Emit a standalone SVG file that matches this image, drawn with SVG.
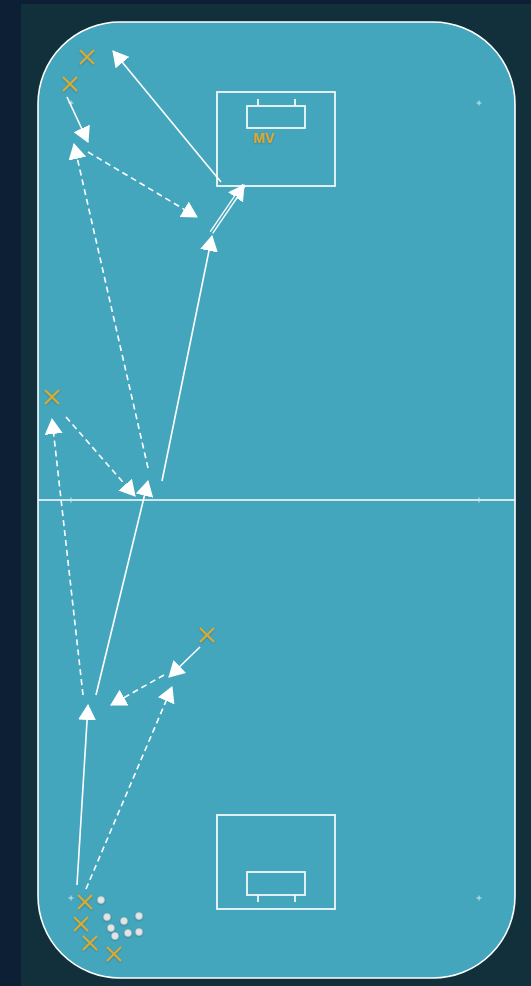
<svg xmlns="http://www.w3.org/2000/svg" width="531" height="986" viewBox="0 0 531 986">
  <defs>
    <marker id="ah" markerUnits="userSpaceOnUse" viewBox="0 0 16 18" markerWidth="16" markerHeight="18" refX="15" refY="9" orient="auto">
      <path d="M0,0 L16,9 L0,18 z" fill="#ffffff"/>
    </marker>
    <filter id="sh" x="-50%" y="-50%" width="200%" height="200%">
      <feDropShadow dx="0" dy="0.8" stdDeviation="0.8" flood-color="#000" flood-opacity="0.25"/>
    </filter>
  </defs>
  <style>
    .field{fill:#44a6bd;stroke:#ffffff;stroke-width:1.6}
    .ln{stroke:#ffffff;stroke-width:1.5;fill:none}
    .goal{stroke:#f2f8fa;stroke-width:1.8;fill:none}
    .tick{stroke:#c9e7ef;stroke-width:1;fill:none}
    .run{stroke:#ffffff;stroke-width:1.6;fill:none;marker-end:url(#ah)}
    .dash{stroke:#ffffff;stroke-width:1.6;fill:none;stroke-dasharray:6 4;marker-end:url(#ah)}
    .x{stroke:#e2aa2c;stroke-width:1.8;fill:none}
    .ball{fill:#e4e4e4;stroke:#c8c8c8;stroke-width:0.6}
    .lbl{font-family:"Liberation Sans",Arial,sans-serif;font-weight:bold;font-size:14px;fill:#e8a628}
  </style>
  <rect x="0" y="0" width="531" height="986" fill="#0d1f35"/>
  <rect x="21" y="4" width="510" height="982" fill="#11303b"/>
  <g id="pitch">
    <rect class="field" x="38" y="22" width="477" height="956" rx="82" ry="82"/>
    <line class="ln" x1="38" y1="500" x2="515" y2="500"/>
    <g class="tick">
      <path d="M68.5,103h5M71,100.5v5"/>
      <path d="M476.5,103h5M479,100.5v5"/>
      <path d="M68.5,500h5M71,497.5v5"/>
      <path d="M476.5,500h5M479,497.5v5"/>
      <path d="M68.5,898h5M71,895.5v5"/>
      <path d="M476.5,898h5M479,895.5v5"/>
    </g>
  </g>
  <g id="goal-top">
    <rect class="goal" x="217" y="92" width="118" height="94"/>
    <rect class="goal" x="247" y="106" width="58" height="22"/>
    <line class="goal" x1="258" y1="99" x2="258" y2="106"/>
    <line class="goal" x1="295" y1="99" x2="295" y2="106"/>
    <text class="lbl" x="264" y="143" text-anchor="middle" filter="url(#sh)">MV</text>
  </g>
  <g id="goal-bottom">
    <rect class="goal" x="217" y="815" width="118" height="94"/>
    <rect class="goal" x="247" y="872" width="58" height="23"/>
    <line class="goal" x1="258" y1="895" x2="258" y2="902"/>
    <line class="goal" x1="295" y1="895" x2="295" y2="902"/>
  </g>
  <g id="connectors">
    <line class="run" x1="221" y1="182" x2="113" y2="51"/>
    <line class="run" x1="67" y1="97" x2="88" y2="142"/>
    <line class="dash" x1="88" y1="152" x2="197" y2="217"/>
    <line class="dash" x1="148" y1="468" x2="74" y2="144"/>
    <line class="run" x1="162" y1="481" x2="212" y2="236"/>
    <line class="dash" x1="66" y1="417" x2="135" y2="496"/>
    <line class="run" x1="96" y1="695" x2="148" y2="481"/>
    <line class="dash" x1="83" y1="695" x2="52" y2="419"/>
    <line class="run" x1="200" y1="647" x2="169" y2="677"/>
    <line class="dash" x1="164" y1="675" x2="111" y2="705"/>
    <line class="dash" x1="86" y1="889" x2="172" y2="687"/>
    <line class="run" x1="77" y1="885" x2="88" y2="705"/>
    <g id="pass">
      <line x1="211.5" y1="232.5" x2="244" y2="185" stroke="#ffffff" stroke-width="4.2" marker-end="url(#ah)"/>
      <line x1="211.5" y1="232.5" x2="236" y2="196.5" stroke="#44a6bd" stroke-width="1.5" stroke-linecap="round"/>
    </g>
  </g>
  <g id="players" filter="url(#sh)">
    <g id="p1"><path class="x" d="M80,50l14,14M94,50l-14,14"/></g>
    <g id="p2"><path class="x" d="M63,77l14,14M77,77l-14,14"/></g>
    <g id="p3"><path class="x" d="M45,390l14,14M59,390l-14,14"/></g>
    <g id="p4"><path class="x" d="M200,628l14,14M214,628l-14,14"/></g>
    <g id="p5"><path class="x" d="M78,895l14,14M92,895l-14,14"/></g>
    <g id="p6"><path class="x" d="M74,917l14,14M88,917l-14,14"/></g>
    <g id="p7"><path class="x" d="M83,936l14,14M97,936l-14,14"/></g>
    <g id="p8"><path class="x" d="M107,947l14,14M121,947l-14,14"/></g>
  </g>
  <g id="balls" filter="url(#sh)">
    <circle class="ball" cx="101" cy="900" r="3.4"/>
    <circle class="ball" cx="107" cy="917" r="3.4"/>
    <circle class="ball" cx="124" cy="921" r="3.4"/>
    <circle class="ball" cx="139" cy="916" r="3.4"/>
    <circle class="ball" cx="111" cy="928" r="3.4"/>
    <circle class="ball" cx="115" cy="936" r="3.4"/>
    <circle class="ball" cx="128" cy="933" r="3.4"/>
    <circle class="ball" cx="139" cy="932" r="3.4"/>
  </g>
</svg>
